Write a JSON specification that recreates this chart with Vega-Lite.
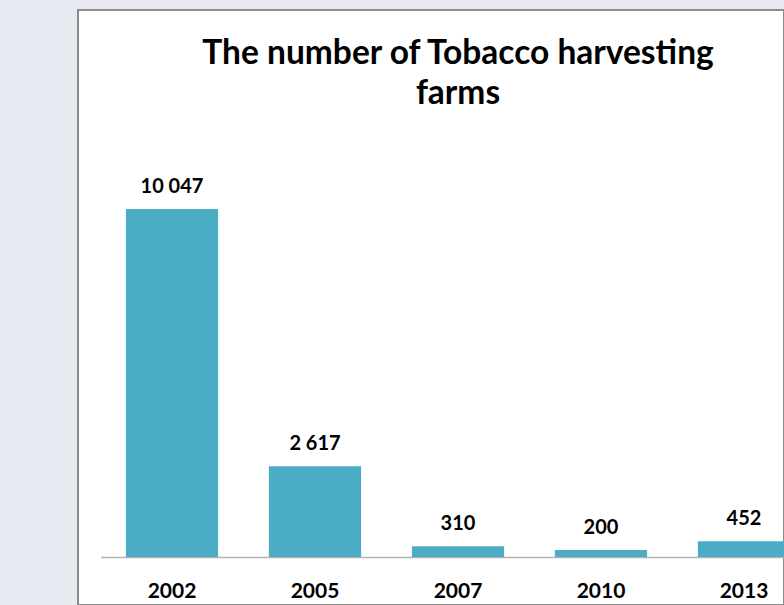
{
  "$schema": "https://vega.github.io/schema/vega-lite/v6.json",
  "autosize": {"type": "none"},
  "width": 706,
  "height": 595,
  "padding": {"left": 78, "top": 10, "right": 0, "bottom": 0},
  "background": "#e7eaf1",
  "title": {
    "text": ["The number of Tobacco harvesting", "farms"],
    "frame": "group",
    "anchor": "middle",
    "orient": "top",
    "dx": 27,
    "offset": -127,
    "baseline": "alphabetic",
    "lineHeight": 40,
    "font": "Lato",
    "fontSize": 33.5,
    "fontWeight": "bold",
    "color": "#000000"
  },
  "data": {
    "values": [
      {"year": "2002", "farms": 10047},
      {"year": "2005", "farms": 2617},
      {"year": "2007", "farms": 310},
      {"year": "2010", "farms": 200},
      {"year": "2013", "farms": 452}
    ]
  },
  "encoding": {
    "x": {
      "field": "year",
      "type": "ordinal",
      "scale": {"range": [22.5, 737.5], "paddingInner": 0.355, "paddingOuter": 0.1775},
      "axis": {
        "title": null,
        "orient": "bottom",
        "offset": -48,
        "labelAngle": 0,
        "ticks": false,
        "tickSize": 0,
        "labelPadding": 40,
        "labelBaseline": "alphabetic",
        "labelFont": "Lato",
        "labelFontSize": 21,
        "labelFontWeight": "bold",
        "labelColor": "#000000",
        "domainColor": "#b4b4b4",
        "domainWidth": 1.5
      }
    },
    "y": {
      "field": "farms",
      "type": "quantitative",
      "scale": {"domain": [0, 10047], "range": [547, 199], "nice": false, "zero": true},
      "axis": null
    }
  },
  "layer": [
    {"mark": {"type": "bar", "color": "#4BACC6", "clip": true}},
    {
      "mark": {
        "type": "text",
        "dy": -16,
        "baseline": "alphabetic",
        "font": "Lato",
        "fontSize": 20,
        "fontWeight": "bold",
        "color": "#000000"
      },
      "encoding": {"text": {"field": "farms", "type": "quantitative", "format": ",d"}}
    }
  ],
  "config": {
    "locale": {"number": {"decimal": ".", "thousands": " ", "grouping": [3], "currency": ["", ""]}},
    "view": {"fill": "#ffffff", "stroke": "#8c8c8c", "strokeWidth": 2}
  }
}
